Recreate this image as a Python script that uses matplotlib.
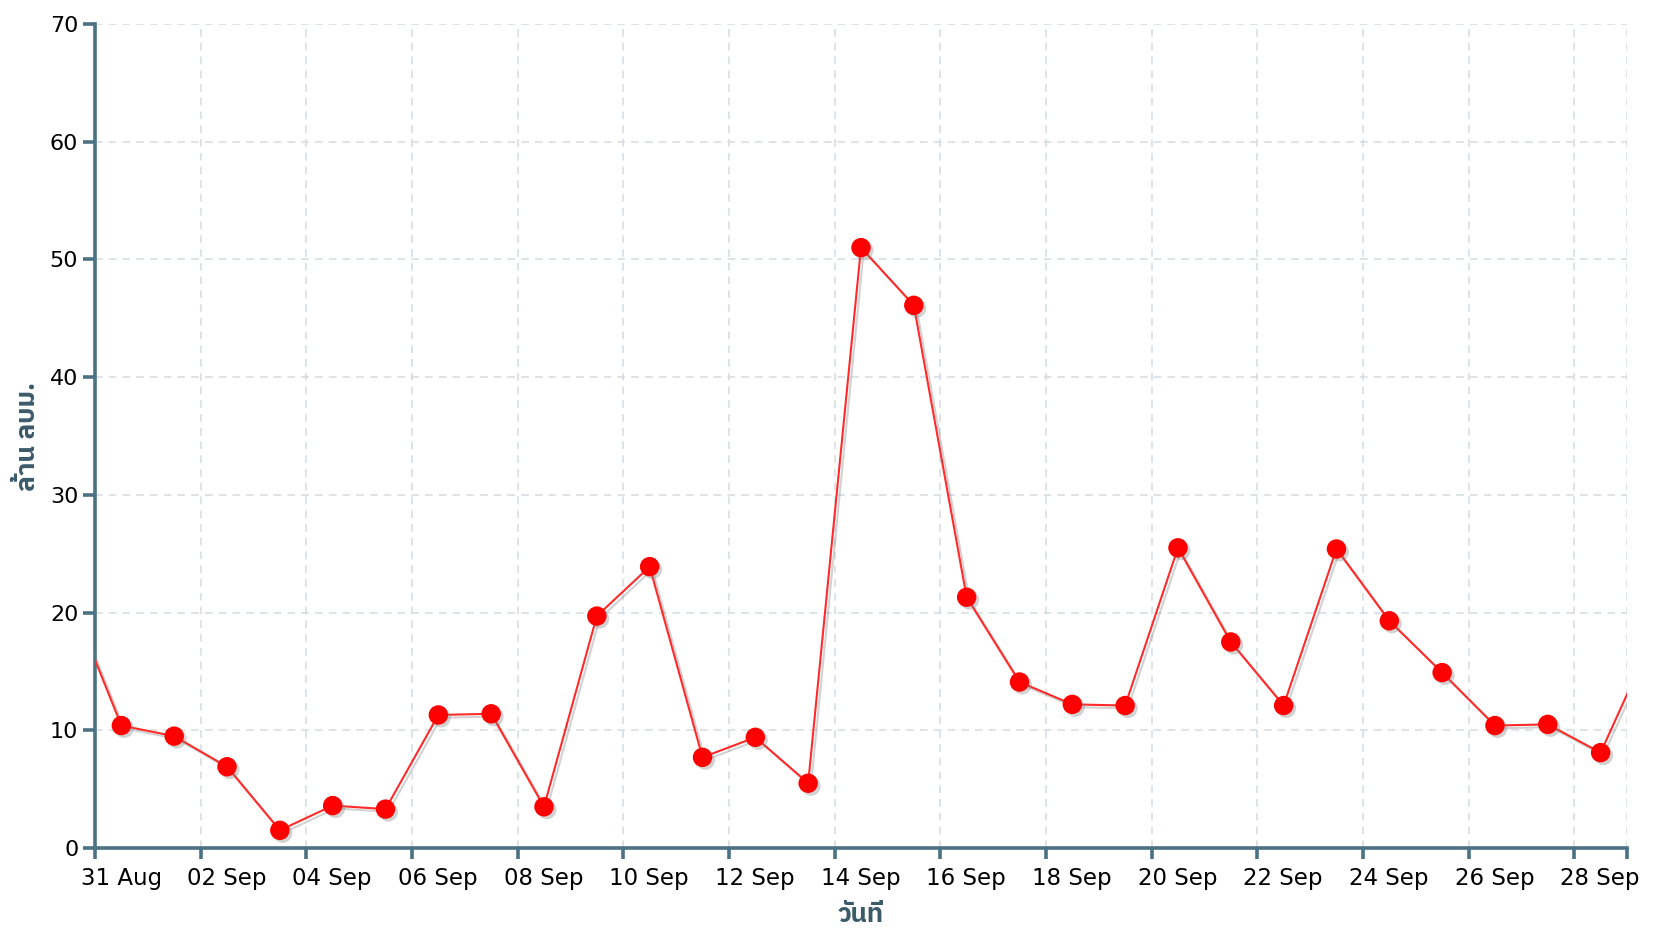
import matplotlib
matplotlib.use("Agg")
import matplotlib.pyplot as plt
import matplotlib.dates as mdates
import matplotlib.patheffects as pe
import matplotlib.transforms as mtransforms
from matplotlib import font_manager
from matplotlib.ft2font import FT2Font
import pandas as pd

# === Daten (Tageswerte, jeweils Tagesmitte) ===
start_day = "2025-08-30"
values = [21.6, 10.4, 9.5, 6.9, 1.5, 3.6, 3.3, 11.3, 11.4, 3.5, 19.7, 23.9, 7.7, 9.4, 5.5,
          51.0, 46.1, 21.3, 14.1, 12.2, 12.1, 25.5, 17.5, 12.1, 25.4, 19.3, 14.9, 10.4,
          10.5, 8.1, 18.0]
x_start = "2025-08-31"
x_end = "2025-09-29"
y_label = "ล้าน ลบม."
x_label = "วันที่"

dates = pd.date_range(start_day, periods=len(values), freq="D") + pd.Timedelta(hours=12)

# === Schrift mit Thai-Zeichen suchen ===
thai_font = None
for f in sorted(font_manager.fontManager.ttflist, key=lambda f: "Thai" not in f.name):
    try:
        if 0x0E27 in FT2Font(f.fname).get_charmap():
            thai_font = f.name
            break
    except Exception:
        continue
label_family = [thai_font, "DejaVu Sans"] if thai_font else ["DejaVu Sans"]

axis_color = "#4a7282"
label_color = "#3b5a6a"
grid_color = "#d3dbe0"

fig = plt.figure(figsize=(16.54, 9.30), dpi=100)
ax = fig.add_axes([0.0574, 0.0882, 0.9263, 0.886])

ax.plot(dates, values, color="#ff2a2a", linewidth=1.5, zorder=3,
        path_effects=[pe.SimpleLineShadow(offset=(2, -2), shadow_color="gray", alpha=0.35), pe.Normal()])
ax.plot(dates, values, linestyle="none", marker="o", markersize=14, color="#ff0000",
        markeredgewidth=0, zorder=4,
        path_effects=[pe.SimplePatchShadow(offset=(2, -2), shadow_rgbFace="gray", alpha=0.35), pe.Normal()])

ax.set_xlim(pd.Timestamp(x_start), pd.Timestamp(x_end))
ax.set_ylim(0, 70)
ax.set_yticks(range(0, 71, 10))
ax.set_xticks(pd.date_range(x_start, "2025-09-28", freq="2D"))
ax.set_xticks([pd.Timestamp(x_end)], minor=True)
ax.xaxis.set_major_formatter(mdates.DateFormatter("%d %b"))

for s in ["top", "right"]:
    ax.spines[s].set_visible(False)
for s in ["left", "bottom"]:
    ax.spines[s].set_color(axis_color)
    ax.spines[s].set_linewidth(2.6)

ax.tick_params(axis="both", which="both", direction="out", width=2.6, color=axis_color, labelcolor="black")
ax.tick_params(axis="y", length=8.5, pad=3.5, labelsize=16)
ax.tick_params(axis="x", which="both", length=8, pad=6, labelsize=16.5)

# Datumslabels beginnen kurz links vom Tick
offset = mtransforms.ScaledTranslation(-14 / 100, 0, fig.dpi_scale_trans)
for lbl in ax.get_xticklabels():
    lbl.set_horizontalalignment("left")
    lbl.set_transform(lbl.get_transform() + offset)

ax.grid(True, which="both", color=grid_color, linestyle=(0, (5, 4)), linewidth=1.1)
ax.set_axisbelow(True)

ax.set_ylabel(y_label, family=label_family, fontsize=19, fontweight="bold", color=label_color, labelpad=7)
ax.set_xlabel(x_label, family=label_family, fontsize=18.5, fontweight="bold", color=label_color, labelpad=9)

fig.savefig("out.png", dpi=100)
